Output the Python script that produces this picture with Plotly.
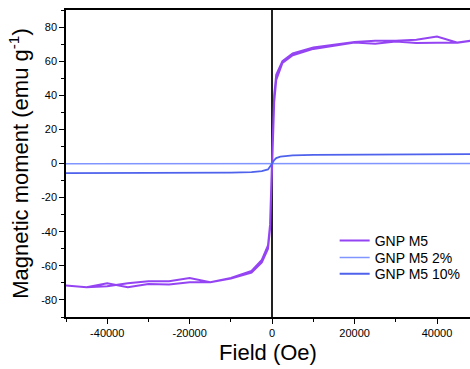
import plotly.graph_objects as go

# GNP M5 hysteresis loop: descending branch then ascending branch
field_down = [50000, 45000, 40000, 35000, 30000, 25000, 20000, 15000, 10000, 5000,
              2500, 1000, 500, 0, -500, -1000, -2500, -5000, -10000, -15000,
              -20000, -25000, -30000, -35000, -40000, -45000, -50000]
m5_down = [72.5, 70.8, 74.5, 72.5, 72.0, 72.0, 71.2, 69.5, 68.0, 64.5,
           60.0, 52.0, 40.0, 3.0, -36.0, -48.0, -56.5, -63.0, -67.1, -69.6,
           -67.1, -69.0, -69.0, -70.2, -72.0, -72.6, -71.6]
field_up = [-50000, -45000, -40000, -35000, -30000, -25000, -20000, -15000, -10000, -5000,
            -2500, -1000, -500, 0, 500, 1000, 2500, 5000, 10000, 15000,
            20000, 25000, 30000, 35000, 40000, 45000, 50000]
m5_up = [-71.6, -72.6, -70.2, -72.6, -70.6, -70.9, -69.6, -69.6, -67.5, -64.0,
         -58.0, -50.0, -38.0, -3.0, 36.0, 49.0, 59.0, 63.5, 67.2, 69.0,
         71.0, 70.2, 71.5, 70.6, 71.0, 71.0, 72.5]

# GNP M5 2%
field_2 = [-50000, -25000, 0, 25000, 50000]
m5_2 = [-0.2, -0.1, 0.0, 0.05, 0.05]

# GNP M5 10%
field_10 = [-50000, -40000, -30000, -20000, -10000, -5000, -2500, -1000, -500, 0,
            500, 1000, 2000, 5000, 10000, 20000, 30000, 40000, 50000]
m5_10 = [-5.6, -5.6, -5.5, -5.5, -5.3, -5.0, -4.5, -3.5, -2.0, 0.0,
         2.0, 3.2, 4.0, 4.8, 5.1, 5.3, 5.4, 5.5, 5.5]

x_ticks = [-40000, -20000, 0, 20000, 40000]
y_ticks = [-80, -60, -40, -20, 0, 20, 40, 60, 80]

fig = go.Figure()
fig.add_trace(go.Scatter(x=field_down + field_up, y=m5_down + m5_up, mode="lines",
                         name="GNP M5", line=dict(color="#9444f2", width=2), legend="legend"))
fig.add_trace(go.Scatter(x=field_2, y=m5_2, mode="lines",
                         name="GNP M5 2%", line=dict(color="#8095ff", width=1.5), legend="legend2"))
fig.add_trace(go.Scatter(x=field_10, y=m5_10, mode="lines",
                         name="GNP M5 10%", line=dict(color="#4f62ec", width=1.8), legend="legend3"))

font_family = "Liberation Sans, Arial, sans-serif"
leg_common = dict(xanchor="left", yanchor="middle", font=dict(size=14, family=font_family),
                  bgcolor="rgba(0,0,0,0)", borderwidth=0)
fig.update_layout(
    width=470, height=369,
    margin=dict(l=66, r=0, t=10, b=52, autoexpand=False),
    paper_bgcolor="white", plot_bgcolor="white",
    font=dict(family=font_family, color="black", size=11),
    showlegend=True,
    legend=dict(x=0.665, y=0.2475, **leg_common),
    legend2=dict(x=0.665, y=0.1925, **leg_common),
    legend3=dict(x=0.665, y=0.1395, **leg_common),
    xaxis=dict(
        range=[-50000, 48000], tickvals=x_ticks, ticktext=[str(v) for v in x_ticks],
        ticks="outside", ticklen=5, tickwidth=1, tickcolor="black",
        minor=dict(dtick=10000, tick0=0, ticks="outside", ticklen=3, tickcolor="black", showgrid=False),
        showline=True, linecolor="black", linewidth=1.5, mirror=True,
        showgrid=False, zeroline=True, zerolinecolor="#222222", zerolinewidth=1.5,
        title=dict(text="Field (Oe)", font=dict(size=22, family=font_family), standoff=7),
        tickfont=dict(size=11), automargin=False,
    ),
    yaxis=dict(
        range=[-90, 90], tickvals=y_ticks, ticktext=[str(v) for v in y_ticks],
        ticks="outside", ticklen=5, tickwidth=1, tickcolor="black",
        minor=dict(dtick=10, tick0=0, ticks="outside", ticklen=3, tickcolor="black", showgrid=False),
        showline=True, linecolor="black", linewidth=1.5, mirror=False,
        showgrid=False, zeroline=False,
        title=dict(text="Magnetic moment (emu g<sup>-1</sup>)", font=dict(size=22, family=font_family), standoff=6),
        tickfont=dict(size=11), automargin=False,
    ),
)

fig.write_html("out.html", config={"displayModeBar": False},
               post_script="document.body.style.margin='0';document.body.style.overflow='hidden';")
